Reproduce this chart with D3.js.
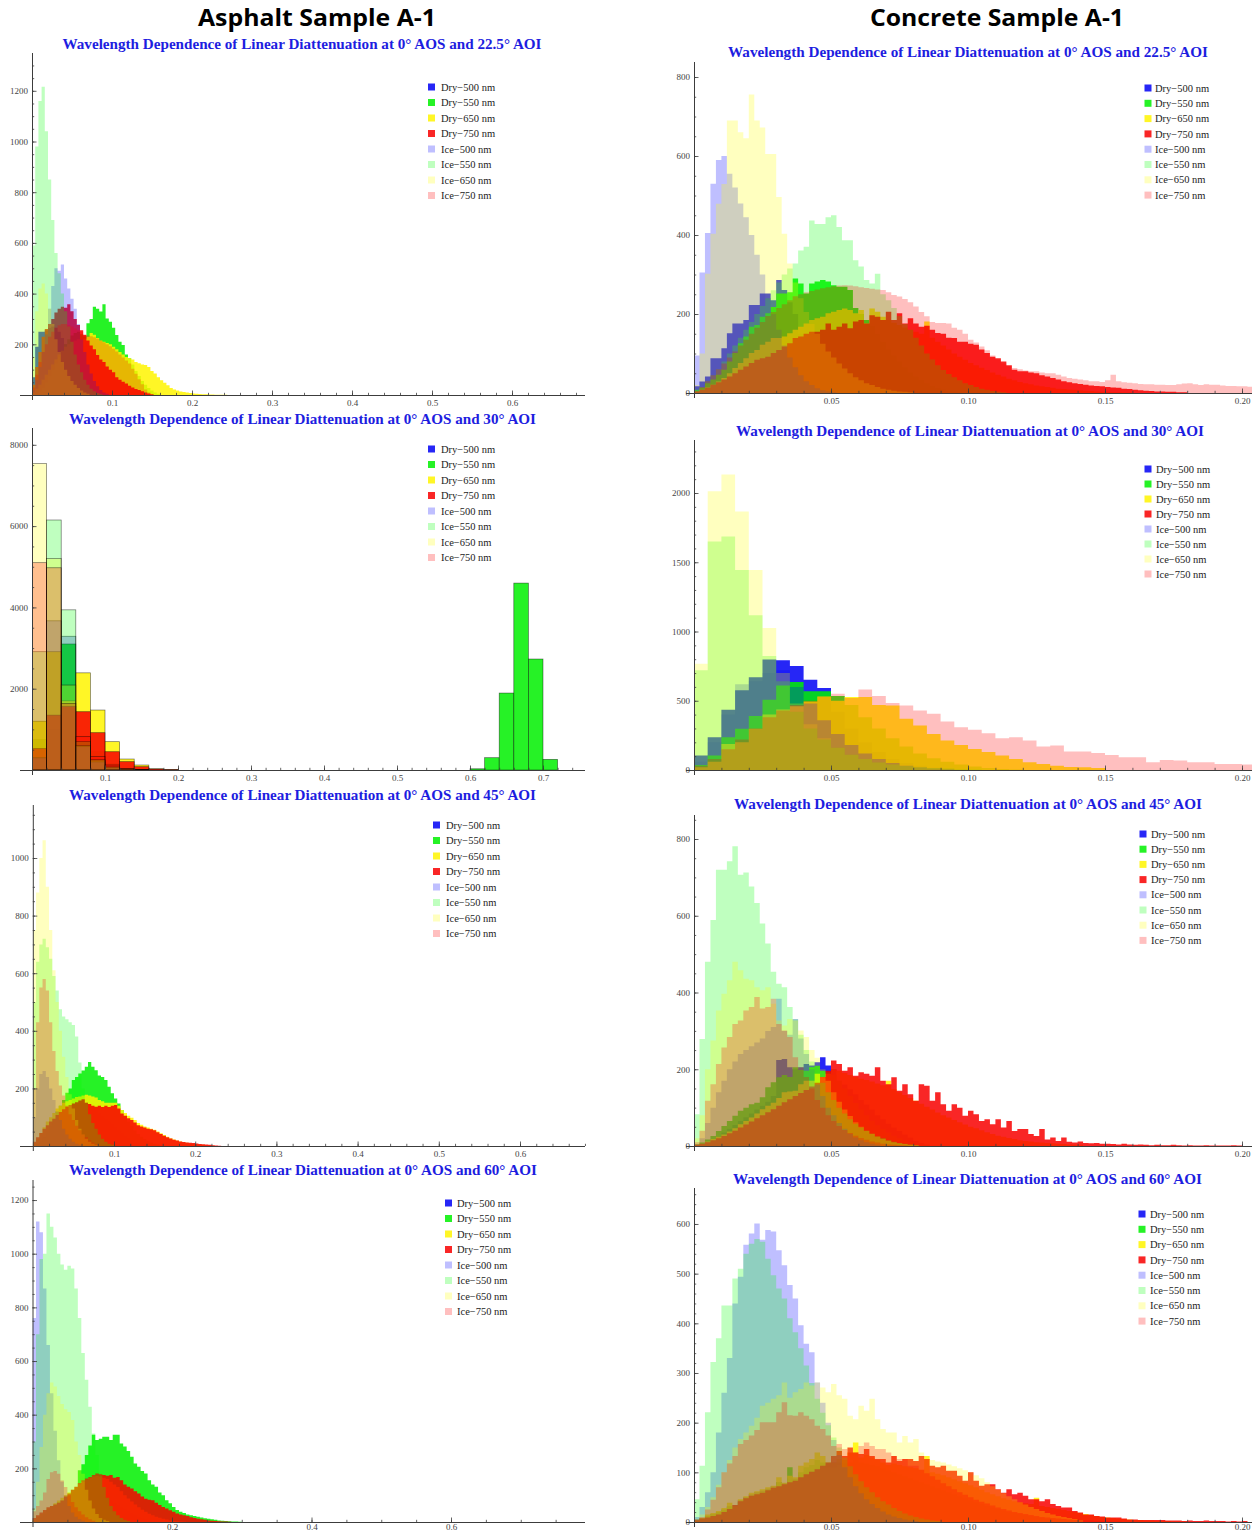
<!DOCTYPE html>
<html>
<head>
<meta charset="utf-8">
<script src="https://cdn.jsdelivr.net/npm/d3@7"></script>
<style>
  html, body { margin: 0; padding: 0; background: #fff; }
  svg { display: block; }
</style>
</head>
<body>
<script>
// ---------------------------------------------------------------
// Histogram counts of linear diattenuation, 0° AOS.
// Every series starts at 0; the bin width of each panel is given
// separately. Series order: Dry-500, Dry-550, Dry-650, Dry-750,
// Ice-500, Ice-550, Ice-650, Ice-750.
// ---------------------------------------------------------------
const seriesLabels = ["Dry−500 nm", "Dry−550 nm", "Dry−650 nm", "Dry−750 nm",
                      "Ice−500 nm", "Ice−550 nm", "Ice−650 nm", "Ice−750 nm"];
const aoiLabels = ["22.5", "30", "45", "60"];
const sampleHeaders = ["Asphalt Sample A-1", "Concrete Sample A-1"];

// ---- Asphalt, 22.5° AOI ----
const a225Bin = 0.004;
const a225Dry500 = [70,190,250,250,255,265,270,265,250,225,200,160,120,85,55,35,20,10,5];
const a225Dry550 = [0,5,15,30,50,75,100,125,150,175,200,220,235,245,250,240,232,283,300,348,340,329,358,302,289,265,237,210,197,160,145,120,95,75,55,40,28,18,10,5];
const a225Dry650 = [10,25,40,60,80,100,120,140,160,175,190,200,210,215,220,220,222,230,245,238,225,215,210,205,200,190,180,170,160,150,145,140,130,125,120,118,110,95,85,70,58,48,38,28,22,18,14,12,10,8,6,5,4,3,3,2,2,1,1,1,1];
const a225Dry750 = [40,110,170,230,260,280,300,325,340,348,344,358,330,300,276,255,237,215,195,180,158,140,130,112,100,90,70,60,52,45,36,30,24,20,15,10,6,3];
const a225Ice500 = [20,60,110,170,240,340,430,500,490,515,460,420,380,340,280,220,170,120,85,55,35,20,10,5];
const a225Ice550 = [590,980,1160,1216,1040,850,690,560,480,400,330,270,210,160,120,90,60,40,25,15,8,4];
const a225Ice650 = [150,330,420,440,400,340,280,220,170,130,100,75,55,40,28,18,10,5];
const a225Ice750 = [30,80,130,170,200,230,250,265,275,280,280,275,270,262,255,248,240,235,232,228,222,215,208,200,192,182,172,160,148,136,124,104,84,62,42,22,10];
const a225XTicks = [0.1, 0.2, 0.3, 0.4, 0.5, 0.6];
const a225YTicks = [200, 400, 600, 800, 1000, 1200];

// ---- Asphalt, 30° AOI ----
const a30Bin = 0.02;
const a30Dry500 = [200,500,1000,500,150,40,10];
const a30Dry550 = [750,1000,3100,697,450,164,40,10,0,0,0,0,0,0,0,0,0,0,0,0,0,0,0,0,0,0,0,0,0,0,30,303,1893,4598,2730,262];
const a30Dry650 = [1200,2910,1700,2390,1475,697,270,123,30,10];
const a30Dry750 = [530,1350,1560,1434,918,450,205,82,25,8];
const a30Ice500 = [300,3670,3290,574,200,50,15,5];
const a30Ice550 = [2910,6150,3940,700,246,60,20,5];
const a30Ice650 = [7540,5200,2090,600,250,80,30,10];
const a30Ice750 = [5100,4975,1640,820,330,123,40,10];
const a30XTicks = [0.1, 0.2, 0.3, 0.4, 0.5, 0.6, 0.7];
const a30YTicks = [2000, 4000, 6000, 8000];

// ---- Asphalt, 45° AOI ----
const a45Bin = 0.004;
const a45Dry500 = [0,5,15,30,45,60,80,100,115,130,140,145,148,150,150,148,145,140,132,125,115,105,95,85,75,65,55,45,36,28,20,14,9,5,3];
const a45Dry550 = [0,5,15,30,50,70,95,120,140,160,185,200,229,240,252,262,275,292,275,263,245,240,229,206,183,165,148,125,105,85,70,55,42,32,24,18,12,8,5,3];
const a45Dry650 = [10,25,45,65,85,100,115,130,140,150,155,160,165,170,172,175,178,175,172,168,160,155,150,150,150,150,140,125,115,105,98,90,80,74,68,64,60,56,50,44,38,32,27,23,19,16,13,11,9,8,6,5,4,3,2,1];
const a45Dry750 = [15,30,45,60,72,85,95,108,118,128,136,142,148,152,158,162,150,146,140,136,140,135,140,135,140,142,130,113,105,96,90,82,72,68,64,60,58,55,48,42,36,30,26,22,19,16,14,12,11,10,9,7,6,5,4,3,2,1];
const a45Ice500 = [100,200,250,260,240,200,160,120,90,60,40,25,15,8,4];
const a45Ice550 = [500,640,700,720,690,650,590,540,475,450,440,430,420,380,290,200,150,110,80,60,40,25,15,8,4];
const a45Ice650 = [750,880,1000,1062,900,750,610,500,400,310,240,180,130,90,60,40,25,15,8,4];
const a45Ice750 = [200,430,550,580,540,430,330,260,210,175,140,110,90,70,55,40,30,20,12,6];
const a45XTicks = [0.1, 0.2, 0.3, 0.4, 0.5, 0.6];
const a45YTicks = [200, 400, 600, 800, 1000];

// ---- Asphalt, 60° AOI ----
const a60Bin = 0.005;
const a60Dry500 = [4,8,14,20,28,36,45,55,65,75,85,95,102,108,112,115,115,112,108,102,95,88,80,72,64,56,48,40,32,25,19,14,10,6,3];
const a60Dry550 = [5,10,20,30,45,55,65,75,80,90,100,110,120,193,215,250,285,325,306,310,318,318,306,325,325,293,281,265,243,218,206,190,181,156,140,131,110,100,81,70,56,45,38,34,28,25,22,20,17,14,12,10,8,6,5,4,3,2,2,1];
const a60Dry650 = [10,20,30,40,50,60,70,80,90,100,110,120,130,140,150,158,165,170,172,170,165,160,150,140,130,115,100,88,76,65,55,46,38,31,25,20,16,12,9,6,4,3,2,1];
const a60Dry750 = [15,25,35,45,55,60,65,72,80,95,106,120,131,145,156,162,168,175,181,178,175,172,175,165,168,156,140,131,125,115,106,95,87,83,81,72,63,56,50,44,38,32,28,25,22,18,15,12,10,8,6,5,4,3,2,2,1];
const a60Ice500 = [760,1120,1080,870,660,480,340,230,150,100,60,35,20,10,5];
const a60Ice550 = [300,700,980,1000,1150,1100,1060,1000,960,940,955,945,870,760,630,530,430,330,250,180,130,90,60,40,25,15,8,4];
const a60Ice650 = [50,150,280,400,480,520,505,470,440,420,410,380,300,250,180,120,80,50,30,15,8,4];
const a60Ice750 = [40,60,80,110,160,185,190,180,155,130,100,75,55,40,28,18,10,5];
const a60XTicks = [0.2, 0.4, 0.6];
const a60YTicks = [200, 400, 600, 800, 1000, 1200];

// ---- Concrete, 22.5° AOI ----
const c225Bin = 0.002;
const c225Dry500 = [17,29,42,88,88,113,151,176,176,185,223,223,252,252,235,286,261,230,200,150,140,130,120,110,100,92,85,78,70,62,55,48,40,33,26,20,14,9,5,3];
const c225Dry550 = [8,13,25,34,46,59,80,101,126,143,168,172,193,202,218,252,252,255,290,277,252,277,282,286,282,273,269,269,261,215,200,185,170,150,130,110,95,80,65,52,42,33,25,18,13,9,6,4,2];
const c225Dry650 = [3,8,14,21,29,38,50,63,76,88,101,109,122,130,139,139,143,151,160,168,176,185,189,193,202,206,210,214,210,202,210,176,214,206,193,185,178,172,166,160,155,150,181,140,130,120,110,100,92,84,76,70,64,58,52,46,42,36,32,28,25,22,19,17,15,13,11,10,9,8,7,6,5,4,3,3,2,2,1,1];
const c225Dry750 = [4,8,13,21,27,34,42,50,59,67,76,84,88,92,101,109,118,126,139,143,150,155,155,160,176,160,168,176,164,181,185,176,197,193,185,206,185,202,176,189,176,168,170,160,152,150,140,139,130,130,125,122,110,101,92,88,80,70,59,55,55,52,50,45,42,38,34,30,27,25,23,21,19,18,17,15,14,13,11,10,8,7,6,5,4,4,3,3,2,2];
const c225Ice500 = [95,305,405,530,590,600,555,520,480,445,400,350,300,240,200,160,120,90,65,45,30,20,12,7,4,2];
const c225Ice550 = [5,15,30,45,60,80,100,120,140,160,180,200,220,240,260,280,300,315,328,361,370,437,428,428,445,450,420,387,387,336,320,286,277,302,250,235,215,195,175,160,140,120,100,85,70,58,48,40,32,25,20,15,11,8,5,3,2];
const c225Ice650 = [20,100,302,403,479,529,690,690,660,645,756,690,672,605,605,496,403,328,280,240,205,175,150,125,105,90,75,62,50,40,32,25,20,15,11,8,6,4,3,2];
const c225Ice750 = [5,15,30,45,60,75,90,105,120,135,150,165,180,195,205,215,225,235,245,250,255,258,262,265,268,270,272,273,272,270,268,266,264,262,261,255,248,244,238,230,219,205,194,180,177,177,176,165,160,150,135,128,118,108,95,84,75,68,63,60,57,55,55,52,50,50,46,42,38,36,34,32,30,30,28,32,46,30,27,26,25,23,22,22,21,21,20,20,22,24,25,22,20,22,21,21,19,18,18,17,17,16];
const cXTicks = [0.05, 0.10, 0.15, 0.20];
const c225YTicks = [0, 200, 400, 600, 800];

// ---- Concrete, 30° AOI ----
const c30Bin = 0.005;
const c30Dry500 = [104,237,435,575,669,797,792,751,652,592,420,300,200,130,80,50,30,18,10,5];
const c30Dry550 = [36,104,237,297,389,507,611,635,568,568,534,470,380,300,230,170,120,85,60,40,25,15,8,4];
const c30Dry650 = [20,60,188,200,297,401,437,461,495,531,500,527,527,470,466,370,321,260,213,180,152,130,104,80,56,43,31,22,19,15];
const c30Dry750 = [];
const c30Ice500 = [60,200,400,620,640,700,720,600,480,360,260,180,120,80,50,30,18,10,5];
const c30Ice550 = [720,1650,1686,1444,1118,823,640,420,300,220,160,110,80,55,40,28,20,14,10,6,4];
const c30Ice650 = [768,2012,2133,1867,1444,1026,700,480,330,230,160,110,80,55,40,28,20,14,10,7,5,3,2];
const c30Ice750 = [30,80,150,220,300,380,430,470,500,530,551,520,582,534,483,466,430,406,350,309,290,266,229,237,213,169,176,133,133,123,109,92,92,56,72,68,56,56,43,43,40];
const c30YTicks = [0, 500, 1000, 1500, 2000];

// ---- Concrete, 45° AOI ----
const c45Bin = 0.002;
const c45Dry500 = [2,5,10,16,25,35,45,55,65,75,85,95,105,115,130,224,227,205,200,205,214,210,218,231,210,200,170,160,148,135,120,108,95,80,70,58,48,39,30,22,13,8,4];
const c45Dry550 = [4,9,17,26,39,52,65,79,92,100,109,113,127,153,166,179,185,180,205,198,196,205,209,196,192,185,170,150,130,112,95,80,66,54,44,35,27,20,15,10,7,4,2];
const c45Dry650 = [2,6,12,18,24,30,38,46,57,65,74,85,96,105,113,125,140,142,144,161,170,170,188,179,188,200,196,190,185,180,175,172,168,163,158,170,148,140,133,125,118,110,102,95,87,80,74,68,62,56,50,46,41,36,31,27,24,21,18,15,13,12,10,9,8,7,6,5,4,3,3];
const c45Dry750 = [3,6,10,15,20,26,33,40,48,56,64,72,80,88,96,105,114,122,130,138,146,155,165,180,196,223,214,196,205,183,192,188,183,205,170,161,179,144,161,135,118,161,157,118,140,109,92,109,100,79,92,83,65,70,57,70,48,65,39,44,44,31,26,44,17,22,13,22,11,9,12,8,7,8,6,6,5,4,6,4,3,4,3,2,3,2,2,3,2,1,2,1,1,2,1,1,1,1,2,1];
const c45Ice500 = [5,20,60,100,140,170,200,220,240,250,260,270,280,300,310,384,300,290,331,280,240,200,160,130,100,80,60,45,32,22,15,10,6,3];
const c45Ice550 = [83,279,480,589,720,720,742,781,707,713,676,633,580,528,454,423,414,362,330,290,250,220,190,165,140,120,100,85,70,58,48,40,32,25,20,15,11,8,6,4,2];
const c45Ice650 = [20,80,200,275,353,397,432,480,458,436,432,414,406,414,371,327,314,331,327,301,284,250,230,200,170,140,115,95,78,62,50,40,32,25,19,14,10,7,5,3,2];
const c45Ice750 = [10,40,118,161,214,257,284,318,327,353,362,388,358,362,384,318,301,284,231,205,180,150,120,100,80,65,52,42,34,27,21,16,12,9,6,4,3,2,1];
const c45YTicks = [0, 200, 400, 600, 800];

// ---- Concrete, 60° AOI ----
const c60Bin = 0.002;
const c60Dry500 = [4,8,12,15,18,22,30,33,44,50,56,60,63,67,72,80,78,88,87,95,100,104,110,116,118,120,120,105,90,73,58,45,32,20,12,5,2];
const c60Dry550 = [2,6,12,16,20,25,32,30,40,46,52,56,60,64,68,80,75,110,85,100,110,115,125,120,110,110,115,118,120,125,120,118,115,112,108,104,100,96,92,88,84,80,76,72,68,64,60,56,52,48,44,40,36,32,29,26,23,20,18,16,14,12,10,8,6,5,4,3,2,1];
const c60Dry650 = [3,8,15,18,22,28,39,32,46,52,59,62,66,70,73,90,79,93,90,113,120,127,140,133,120,120,127,125,140,160,130,135,130,125,120,115,118,115,112,110,108,105,133,100,97,94,90,86,82,78,74,70,65,60,56,52,48,45,42,40,38,36,49,32,30,28,26,24,22,20,18,16,14,12,10,9,8,7,6,5,4,4,3,3,2,2,2,1,1,1];
const c60Dry750 = [5,7,9,12,15,20,26,34,42,48,53,56,59,64,69,72,76,80,83,90,96,101,106,113,120,133,143,133,150,140,137,147,133,127,127,120,133,123,127,127,123,133,127,113,110,113,103,103,93,83,100,83,73,76,76,66,59,66,56,59,53,46,46,42,46,36,32,29,29,22,19,15,15,12,11,9,9,9,7,5,5,4,4,4,4,4,3,3,3,2,3,2,2,3,2,2,2,1,2,1,2];
const c60Ice500 = [10,30,60,100,180,260,330,440,494,558,581,601,568,588,585,547,517,477,450,396,359,342,281,240,200,165,135,110,90,72,58,46,36,28,21,15,11,8,5,3,2];
const c60Ice550 = [46,113,221,322,370,436,436,490,510,540,560,570,564,530,497,470,450,410,382,350,315,280,248,220,195,170,150,130,112,96,82,70,60,50,42,35,28,22,17,13,10,7,5,3,2];
const c60Ice650 = [5,15,30,50,75,100,125,150,167,180,194,210,234,240,248,255,281,250,261,268,281,275,281,271,261,278,255,248,214,207,234,224,248,207,187,180,180,160,173,160,167,140,127,125,122,120,116,112,108,104,100,94,88,80,72,65,58,52,46,40,35,30,26,22,18,15,12,10,8,6,4];
const c60Ice750 = [3,10,25,45,70,100,118,133,157,165,174,185,201,201,201,221,241,215,214,221,214,207,194,187,174,153,157,147,140,140,153,160,153,147,147,140,133,127,127,113,113,105,98,92,85,78,72,66,60,55,50,45,41,37,33,29,26,23,20,18,16,14,12,10,9,8,7,6,5,4,4,3,3,2,2,2,1,1];
const c60YTicks = [0, 100, 200, 300, 400, 500, 600];

// ---------------------------------------------------------------
// Drawing
// ---------------------------------------------------------------
const W = 1259, H = 1533;
const DRY_OPACITY = 0.85, ICE_OPACITY = 0.25;
const seriesColors = ["#0000f4", "#00f000", "#fff500", "#f80000",
                      "#0000ff", "#00ff00", "#ffff00", "#ff0000"];
const titleText = a => `Wavelength Dependence of Linear Diattenuation at 0° AOS and ${a}° AOI`;
const serif = "'Liberation Serif', 'Times New Roman', serif";
const axisColor = "#3c3c3c";

// Panel layout: pixel anchors of each plot (origin, unit lengths, axis ends),
// title and legend placement.
const panels = [
  { series: [a225Dry500, a225Dry550, a225Dry650, a225Dry750, a225Ice500, a225Ice550, a225Ice650, a225Ice750],
    bin: a225Bin, xTicks: a225XTicks, xFmt: ".1f", xMinor: 0.02, yTicks: a225YTicks, yMinor: 50,
    x0: 32, xUnit: 800, xEnd: 585, xStart: 20, yBase: 395, yTop: 53, yUnit: 0.2535, xPad: 4.6,
    aoi: aoiLabels[0], tX: 302, tY: 48.5, tW: 479, legX: 431.5, legTX: 441, legY: 87, legDy: 15.5, edges: false },
  { series: [a30Dry500, a30Dry550, a30Dry650, a30Dry750, a30Ice500, a30Ice550, a30Ice650, a30Ice750],
    bin: a30Bin, xTicks: a30XTicks, xFmt: ".1f", xMinor: 0.02, yTicks: a30YTicks, yMinor: 500,
    x0: 32, xUnit: 730, xEnd: 585, xStart: 20, yBase: 770, yTop: 428, yUnit: 0.04065, xPad: 4.6,
    aoi: aoiLabels[1], tX: 302.5, tY: 423.5, tW: 467, legX: 431.5, legTX: 441, legY: 449, legDy: 15.5, edges: true },
  { series: [a45Dry500, a45Dry550, a45Dry650, a45Dry750, a45Ice500, a45Ice550, a45Ice650, a45Ice750],
    bin: a45Bin, xTicks: a45XTicks, xFmt: ".1f", xMinor: 0.02, yTicks: a45YTicks, yMinor: 50,
    x0: 32.8, xUnit: 812, xEnd: 585, xStart: 20, yBase: 1146, yTop: 805, yUnit: 0.288, xPad: 4.6,
    aoi: aoiLabels[2], tX: 302.5, tY: 799.5, tW: 467, legX: 436.5, legTX: 446, legY: 825, legDy: 15.5, edges: false },
  { series: [a60Dry500, a60Dry550, a60Dry650, a60Dry750, a60Ice500, a60Ice550, a60Ice650, a60Ice750],
    bin: a60Bin, xTicks: a60XTicks, xFmt: ".1f", xMinor: 0.05, yTicks: a60YTicks, yMinor: 50,
    x0: 32.5, xUnit: 697.5, xEnd: 585, xStart: 20, yBase: 1522, yTop: 1180, yUnit: 0.2683, xPad: 1.2,
    aoi: aoiLabels[3], tX: 303, tY: 1174.5, tW: 468, legX: 448.5, legTX: 457, legY: 1203, legDy: 15.5, edges: false },
  { series: [c225Dry500, c225Dry550, c225Dry650, c225Dry750, c225Ice500, c225Ice550, c225Ice650, c225Ice750],
    bin: c225Bin, xTicks: cXTicks, xFmt: ".2f", xMinor: 0.01, yTicks: c225YTicks, yMinor: 50,
    x0: 694, xUnit: 2740, xEnd: 1252, xStart: 686, yBase: 393, yTop: 62, yUnit: 0.395, xPad: 4.6,
    aoi: aoiLabels[0], tX: 968, tY: 56.5, tW: 480, legX: 1148, legTX: 1155, legY: 88, legDy: 15.3, edges: false },
  { series: [c30Dry500, c30Dry550, c30Dry650, c30Dry750, c30Ice500, c30Ice550, c30Ice650, c30Ice750],
    bin: c30Bin, xTicks: cXTicks, xFmt: ".2f", xMinor: 0.01, yTicks: c30YTicks, yMinor: 100,
    x0: 694, xUnit: 2740, xEnd: 1252, xStart: 686, yBase: 770, yTop: 440, yUnit: 0.1385, xPad: 4.6,
    aoi: aoiLabels[1], tX: 970, tY: 435.5, tW: 468, legX: 1148, legTX: 1156, legY: 469, legDy: 15, edges: false },
  { series: [c45Dry500, c45Dry550, c45Dry650, c45Dry750, c45Ice500, c45Ice550, c45Ice650, c45Ice750],
    bin: c45Bin, xTicks: cXTicks, xFmt: ".2f", xMinor: 0.01, yTicks: c45YTicks, yMinor: 50,
    x0: 694, xUnit: 2740, xEnd: 1252, xStart: 686, yBase: 1146, yTop: 815, yUnit: 0.38375, xPad: 4.6,
    aoi: aoiLabels[2], tX: 968, tY: 808.5, tW: 468, legX: 1143, legTX: 1151, legY: 834, legDy: 15.2, edges: false },
  { series: [c60Dry500, c60Dry550, c60Dry650, c60Dry750, c60Ice500, c60Ice550, c60Ice650, c60Ice750],
    bin: c60Bin, xTicks: cXTicks, xFmt: ".2f", xMinor: 0.01, yTicks: c60YTicks, yMinor: 20,
    x0: 694, xUnit: 2740, xEnd: 1252, xStart: 686, yBase: 1522, yTop: 1188, yUnit: 0.4967, xPad: 1.2,
    aoi: aoiLabels[3], tX: 967.5, tY: 1183.5, tW: 469, legX: 1142, legTX: 1150, legY: 1214, legDy: 15.3, edges: false }
];

const svg = d3.select("body").append("svg")
  .attr("width", W).attr("height", H)
  .style("background", "#fff");

// Column headers
const headerX = [317, 997], headerW = [238, 254];
sampleHeaders.forEach((t, i) => {
  svg.append("text")
    .attr("x", headerX[i]).attr("y", 26)
    .attr("text-anchor", "middle")
    .attr("font-family", "'Open Sans', 'Liberation Sans', sans-serif")
    .attr("font-weight", 700).attr("font-size", 24)
    .attr("textLength", headerW[i]).attr("lengthAdjust", "spacingAndGlyphs")
    .attr("fill", "#000")
    .text(t);
});

const multiples = (step, max) =>
  d3.range(1, Math.floor(max / step + 1e-6) + 1).map(k => +(k * step).toFixed(6));

panels.forEach((p, pi) => {
  const xMax = (p.xEnd - p.x0) / p.xUnit;
  const yMax = (p.yBase - p.yTop) / p.yUnit;
  const x = d3.scaleLinear().domain([0, xMax]).range([p.x0, p.xEnd]);
  const y = d3.scaleLinear().domain([0, yMax]).range([p.yBase, p.yTop]);

  const g = svg.append("g").attr("class", "panel");
  const clipId = "plot-clip-" + pi;
  svg.append("clipPath").attr("id", clipId)
    .append("rect")
    .attr("x", x(0)).attr("y", y(yMax))
    .attr("width", x(xMax) - x(0)).attr("height", y(0) - y(yMax));

  const plot = g.append("g").attr("clip-path", `url(#${clipId})`);

  // Overlapped histograms, drawn in legend order
  p.series.forEach((vals, si) => {
    if (!vals.length) return;
    const op = si < 4 ? DRY_OPACITY : ICE_OPACITY;
    if (p.edges) {
      const bars = vals.map((v, i) => ({ i, v })).filter(d => d.v > 0);
      plot.append("g").selectAll("rect").data(bars).join("rect")
        .attr("x", d => x(d.i * p.bin))
        .attr("width", d => x((d.i + 1) * p.bin) - x(d.i * p.bin))
        .attr("y", d => y(d.v))
        .attr("height", d => y(0) - y(d.v))
        .attr("fill", seriesColors[si]).attr("fill-opacity", op)
        .attr("stroke", "#000").attr("stroke-opacity", 0.55).attr("stroke-width", 0.7);
    } else {
      const pts = vals.map((v, i) => [i * p.bin, v]);
      pts.push([vals.length * p.bin, vals[vals.length - 1]]);
      const area = d3.area()
        .curve(d3.curveStepAfter)
        .x(d => x(d[0]))
        .y0(y(0))
        .y1(d => y(d[1]));
      plot.append("path")
        .attr("d", area(pts))
        .attr("fill", seriesColors[si])
        .attr("fill-opacity", op);
    }
  });

  // Axes: major ticks with labels, minor ticks without, both pointing inward
  const styleAxis = sel => {
    sel.select(".domain").remove();
    sel.attr("font-family", serif).attr("font-size", 9);
    sel.selectAll("line").attr("stroke", axisColor).attr("stroke-width", 0.8);
    sel.selectAll("text").attr("fill", "#444");
  };

  g.append("g").attr("transform", `translate(0,${p.yBase})`)
    .call(d3.axisBottom(x).tickValues(multiples(p.xMinor, xMax)).tickFormat("")
      .tickSizeInner(-2.2).tickSizeOuter(0))
    .call(styleAxis);
  g.append("g").attr("transform", `translate(0,${p.yBase})`)
    .call(d3.axisBottom(x).tickValues(p.xTicks).tickFormat(d3.format(p.xFmt))
      .tickSizeInner(-4.5).tickSizeOuter(0).tickPadding(p.xPad))
    .call(styleAxis);

  g.append("g").attr("transform", `translate(${x(0)},0)`)
    .call(d3.axisLeft(y).tickValues(multiples(p.yMinor, yMax)).tickFormat("")
      .tickSizeInner(-2.2).tickSizeOuter(0))
    .call(styleAxis);
  g.append("g").attr("transform", `translate(${x(0)},0)`)
    .call(d3.axisLeft(y).tickValues(p.yTicks).tickFormat(d3.format("d"))
      .tickSizeInner(-4.5).tickSizeOuter(0).tickPadding(4))
    .call(styleAxis);

  // Axis lines (x axis runs a little past the origin, as does the y axis)
  g.append("line")
    .attr("x1", p.xStart).attr("x2", x(xMax))
    .attr("y1", y(0) + 0.5).attr("y2", y(0) + 0.5)
    .attr("stroke", axisColor).attr("stroke-width", 1);
  g.append("line")
    .attr("x1", x(0) + 0.5).attr("x2", x(0) + 0.5)
    .attr("y1", y(0) + 5).attr("y2", y(yMax))
    .attr("stroke", axisColor).attr("stroke-width", 1);

  // Title
  g.append("text")
    .attr("x", p.tX).attr("y", p.tY)
    .attr("text-anchor", "middle")
    .attr("font-family", serif).attr("font-weight", 700).attr("font-size", 14.5)
    .attr("textLength", p.tW).attr("lengthAdjust", "spacingAndGlyphs")
    .attr("fill", "#1d1de0")
    .text(titleText(p.aoi));

  // Legend
  const leg = g.append("g");
  seriesLabels.forEach((lab, i) => {
    const yy = p.legY + i * p.legDy;
    leg.append("rect")
      .attr("x", p.legX - 3.5).attr("y", yy - 3.5)
      .attr("width", 7).attr("height", 7)
      .attr("fill", seriesColors[i])
      .attr("fill-opacity", i < 4 ? DRY_OPACITY : ICE_OPACITY);
    leg.append("text")
      .attr("x", p.legTX).attr("y", yy + 3.6)
      .attr("font-family", serif).attr("font-size", 10.5)
      .attr("fill", "#222")
      .text(lab);
  });
});
</script>
</body>
</html>
